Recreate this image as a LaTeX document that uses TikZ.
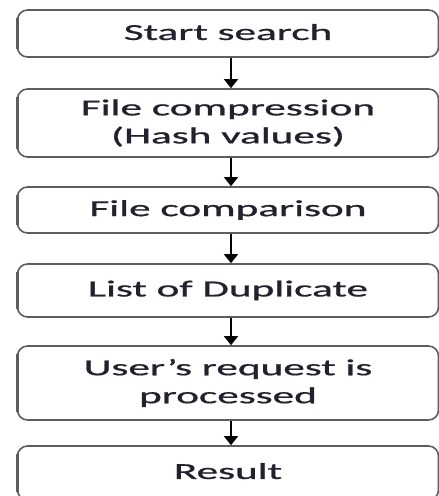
\documentclass[tikz,border=0pt]{standalone}
\usepackage{fontspec}
\setmainfont{Carlito}
\newfontfamily\heavy{Carlito}[FakeBold=0.7]
\usetikzlibrary{arrows.meta}
\definecolor{edge}{HTML}{5E5E5E}
\definecolor{ink}{HTML}{22222E}
\newcommand{\wide}[1]{\scalebox{1.88}[1]{#1}}
\tikzset{
  stepbox/.style={draw=edge, line width=1.6pt, rounded corners=10pt, minimum width=421pt,
    inner sep=0pt, align=center, text=ink, font=\heavy\fontsize{23}{28}\selectfont},
  flow/.style={line width=1.5pt, -{Triangle[width=14pt,length=9pt]}},
  leftband/.style={draw=edge, line width=2.6pt}
}
\begin{document}
\begin{tikzpicture}[x=1pt,y=-1pt]
\useasboundingbox (0,0) rectangle (439,496);
\node[stepbox, minimum height=47pt] (b1) at (228,33.5) {\raisebox{3pt}{\wide{Start search}}};
\node[stepbox, minimum height=68pt] (b2) at (228,123) {\wide{File compression}\\\wide{(Hash values)}};
\node[stepbox, minimum height=46pt] (b3) at (228,210) {\raisebox{2pt}{\wide{File comparison}}};
\node[stepbox, minimum height=53pt] (b4) at (228,290.5) {\raisebox{4pt}{\wide{List of Duplicate}}};
\node[stepbox, minimum height=74pt] (b5) at (228,383) {\wide{User’s request is}\\\wide{processed}};
\node[stepbox, minimum height=54pt] (b6) at (228,473) {\raisebox{4pt}{\wide{Result}}};
\foreach \b in {b1,b2,b3,b4,b5,b6}{
  \draw[leftband] ([xshift=0.8pt,yshift=-9pt]\b.north west) -- ([xshift=0.8pt,yshift=9pt]\b.south west);
}
\draw[flow] ([xshift=3pt]b1.south) -- ([xshift=3pt]b2.north);
\draw[flow] ([xshift=3pt]b2.south) -- ([xshift=3pt]b3.north);
\draw[flow] ([xshift=3pt]b3.south) -- ([xshift=3pt]b4.north);
\draw[flow] ([xshift=3pt]b4.south) -- ([xshift=3pt]b5.north);
\draw[flow] ([xshift=3pt]b5.south) -- ([xshift=3pt]b6.north);
\end{tikzpicture}
\end{document}
